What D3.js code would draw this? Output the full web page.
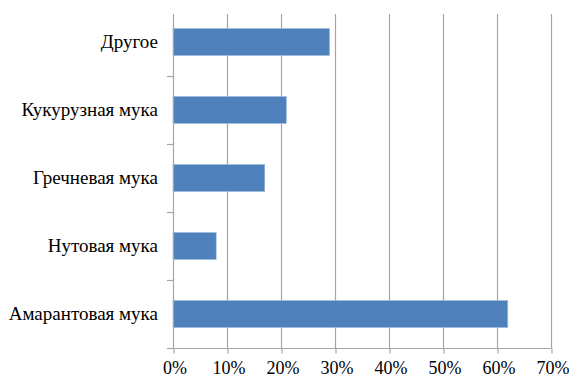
<!DOCTYPE html>
<html>
<head>
<meta charset="utf-8">
<script src="https://cdn.jsdelivr.net/npm/d3@7"></script>
<style>
  html, body { margin: 0; padding: 0; background: #fff; }
  svg { display: block; }
</style>
</head>
<body>
<svg id="chart" width="569" height="376"></svg>
<script>
// Share of respondents by flour type
const categories = ["Другое", "Кукурузная мука", "Гречневая мука", "Нутовая мука", "Амарантовая мука"];
const values = [0.29, 0.21, 0.17, 0.08, 0.62];
const xTicks = [0, 0.1, 0.2, 0.3, 0.4, 0.5, 0.6, 0.7];

const labelFont = "'Liberation Serif'";
const svg = d3.select("#chart");
const plotLeft = 173, plotRight = 551, plotTop = 8, plotBottom = 348, gridTop = 14;

const x = d3.scaleLinear().domain([0, 0.7]).range([plotLeft, plotRight]);
const y = d3.scaleBand().domain(categories).range([plotTop, plotBottom]).paddingInner(0.6).paddingOuter(0.3);
const yEdges = d3.scaleBand().domain(categories).range([plotTop, plotBottom]);

const gridColor = "#a6a6a6";

// vertical gridlines
svg.append("g").selectAll("line").data(xTicks.slice(1)).join("line")
  .attr("x1", d => Math.round(x(d)) + 0.5).attr("x2", d => Math.round(x(d)) + 0.5)
  .attr("y1", gridTop).attr("y2", plotBottom)
  .attr("stroke", gridColor).attr("stroke-width", 1.2);

// bars
svg.append("g").selectAll("rect").data(categories).join("rect")
  .attr("x", x(0))
  .attr("y", d => y(d))
  .attr("width", (d, i) => x(values[i]) - x(0))
  .attr("height", y.bandwidth())
  .attr("fill", "#4f81bd")
  .attr("stroke", "#a9c0de").attr("stroke-width", 0.6);

// category axis: line, tick marks between categories, labels
const gy = svg.append("g");
gy.append("line").attr("x1", plotLeft + 0.5).attr("x2", plotLeft + 0.5).attr("y1", gridTop).attr("y2", plotBottom)
  .attr("stroke", gridColor).attr("stroke-width", 1.2);
const catTicks = categories.slice(1).map(c => yEdges(c)).concat([plotBottom]);
gy.selectAll("line.tick").data(catTicks).join("line").attr("class", "tick")
  .attr("x1", plotLeft - 6).attr("x2", plotLeft)
  .attr("y1", d => Math.round(d) + 0.5).attr("y2", d => Math.round(d) + 0.5)
  .attr("stroke", gridColor).attr("stroke-width", 1.2);
gy.selectAll("text").data(categories).join("text")
  .attr("x", 158)
  .attr("y", d => y(d) + y.bandwidth() / 2)
  .attr("dy", "0.33em")
  .attr("text-anchor", "end")
  .style("font-family", labelFont)
  .style("font-size", "19px")
  .style("fill", "#000")
  .text(d => d);

// value axis
const xAxis = d3.axisBottom(x).tickValues(xTicks).tickFormat(d3.format(".0%")).tickSize(5);
const gx = svg.append("g").attr("transform", `translate(0.5,${plotBottom + 0.5})`).call(xAxis);
gx.select(".domain").attr("stroke", gridColor).attr("stroke-width", 1.2).attr("d", `M${plotLeft - 6},0H${plotRight}`);
gx.selectAll(".tick line").attr("stroke", gridColor).attr("stroke-width", 1.2);
gx.selectAll(".tick text").attr("y", 25).attr("dy", null).attr("dx", 1)
  .style("font-size", "18px").style("font-family", labelFont).style("fill", "#000");
</script>
</body>
</html>
